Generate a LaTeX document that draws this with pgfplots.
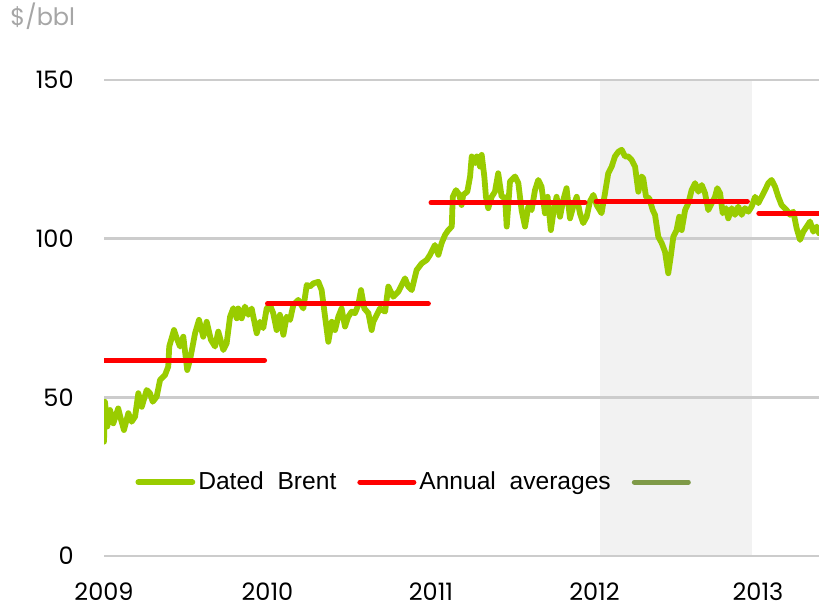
\documentclass[border=0pt]{standalone}
\usepackage{pgfplots}
\pgfplotsset{compat=1.18}
\usepackage{fontspec}
\setmainfont{Liberation Sans}
\newfontfamily\poppins{Poppins}
\definecolor{brentgreen}{HTML}{99CC00}
\definecolor{avgred}{HTML}{FF0000}
\definecolor{olivegreen}{HTML}{7F9A48}
\definecolor{shade}{HTML}{F2F2F2}
\definecolor{gridgray}{HTML}{CCCCCC}
\definecolor{labelgray}{HTML}{A6A6A6}
\begin{document}
\begin{tikzpicture}
\begin{axis}[
  at={(0,0)}, anchor=south west, scale only axis,
  width=357.5pt, height=238pt,
  set layers,
  xmin=2009, xmax=2013.373, ymin=0, ymax=150,
  axis line style={draw=none},
  tick style={draw=none}, major tick length=0pt,
  ytick={0,50,100,150},
  xtick={2009,2010,2011,2012,2013},
  xticklabels={2009,2010,2011,2012,2013},
  ymajorgrids, grid style={draw=gridgray, line width=1.2pt},
  /pgf/number format/assume math mode=true,
  tick label style={font=\poppins\fontsize{12pt}{14pt}\selectfont, text=black},
  yticklabel style={inner sep=0pt, anchor=east, xshift=-15pt},
  xticklabel style={inner sep=0pt, anchor=north, yshift=-13pt},
  legend style={at={(0.044,0.155)}, anchor=west, draw=none, fill=none,
    inner sep=0pt, outer sep=0pt,
    font=\fontsize{12.3pt}{14pt}\selectfont,
    nodes={inner sep=1.5pt},
    /tikz/every even column/.append style={column sep=9pt}},
  legend columns=3, legend cell align=left,
  legend image code/.code={\draw[#1] (0pt,0pt) -- (27pt,0pt);},
]
\addplot[fill=shade, draw=none, forget plot, on layer=axis background]
  coordinates {(2012.034,0) (2012.034,150) (2012.963,150) (2012.963,0)} -- cycle;

\addplot[brentgreen, line width=2.9pt, line cap=round, line join=round] coordinates {
(2009.000,36.0) (2009.006,48.6) (2009.020,40.8) (2009.037,46.0) (2009.057,41.8)
(2009.087,46.5) (2009.102,43.4) (2009.122,39.7) (2009.149,45.0) (2009.169,42.3)
(2009.190,43.9) (2009.210,51.3) (2009.231,47.0) (2009.261,52.3) (2009.281,51.3)
(2009.298,48.6) (2009.322,50.2) (2009.343,55.5) (2009.373,57.0) (2009.393,59.7)
(2009.399,66.0) (2009.428,71.2) (2009.445,68.6) (2009.465,66.0) (2009.485,69.1)
(2009.509,58.6) (2009.526,61.8) (2009.557,70.2) (2009.581,74.4) (2009.607,69.1)
(2009.628,73.8) (2009.654,68.1) (2009.679,66.0) (2009.699,70.7) (2009.730,64.9)
(2009.750,67.0) (2009.771,75.4) (2009.791,78.1) (2009.812,74.9) (2009.821,78.0)
(2009.842,74.9) (2009.862,78.6) (2009.883,76.0) (2009.903,78.0) (2009.934,70.2)
(2009.954,73.8) (2009.974,71.8) (2009.995,78.0) (2010.015,79.1) (2010.035,76.5)
(2010.056,71.2) (2010.076,76.0) (2010.097,69.7) (2010.117,75.4) (2010.138,74.4)
(2010.158,79.1) (2010.188,80.7) (2010.219,78.0) (2010.240,85.4) (2010.260,84.9)
(2010.280,85.9) (2010.311,86.4) (2010.331,83.8) (2010.352,75.4) (2010.372,67.5)
(2010.393,73.8) (2010.413,71.2) (2010.433,75.4) (2010.453,78.0) (2010.474,72.3)
(2010.494,75.4) (2010.515,77.0) (2010.535,76.5) (2010.555,79.1) (2010.572,83.8)
(2010.592,78.0) (2010.617,76.5) (2010.637,71.2) (2010.647,73.8) (2010.688,78.0)
(2010.719,77.0) (2010.739,84.9) (2010.769,81.7) (2010.800,83.3) (2010.821,85.4)
(2010.841,87.5) (2010.861,84.9) (2010.882,83.8) (2010.912,90.1) (2010.943,92.2)
(2010.974,93.3) (2010.994,94.9) (2011.024,98.0) (2011.045,94.9) (2011.065,98.6)
(2011.086,101.2) (2011.106,102.7) (2011.127,103.8) (2011.133,113.2) (2011.153,115.3)
(2011.173,113.8) (2011.187,110.6) (2011.197,113.8) (2011.222,114.8) (2011.239,119.6)
(2011.249,125.9) (2011.269,123.8) (2011.280,125.9) (2011.300,122.7) (2011.310,126.4)
(2011.326,119.6) (2011.336,113.2) (2011.350,109.6) (2011.371,113.2) (2011.391,114.8)
(2011.411,120.6) (2011.432,113.2) (2011.453,113.0) (2011.463,103.8) (2011.483,118.0)
(2011.514,119.6) (2011.534,117.5) (2011.554,109.0) (2011.575,103.8) (2011.595,110.1)
(2011.615,109.0) (2011.636,115.3) (2011.656,118.5) (2011.676,116.4) (2011.697,108.0)
(2011.713,113.2) (2011.733,102.7) (2011.748,108.0) (2011.768,113.2) (2011.789,106.9)
(2011.809,112.2) (2011.829,115.9) (2011.850,106.4) (2011.870,110.1) (2011.891,113.2)
(2011.911,108.0) (2011.931,104.9) (2011.952,106.9) (2011.972,111.7) (2011.993,113.8)
(2012.013,110.6) (2012.043,108.0) (2012.064,114.3) (2012.084,120.6) (2012.105,122.7)
(2012.125,125.9) (2012.146,127.4) (2012.166,128.0) (2012.187,125.9) (2012.207,125.9)
(2012.227,124.8) (2012.248,122.7) (2012.268,114.8) (2012.288,119.6) (2012.298,119.0)
(2012.315,113.2) (2012.335,112.7) (2012.356,109.0) (2012.370,107.5) (2012.390,100.6)
(2012.411,98.6) (2012.431,95.9) (2012.451,89.1) (2012.466,94.3) (2012.482,100.6)
(2012.502,102.7) (2012.518,106.9) (2012.533,102.7) (2012.554,109.0) (2012.574,111.2)
(2012.594,115.3) (2012.615,117.5) (2012.635,114.8) (2012.656,116.9) (2012.676,114.3)
(2012.696,109.0) (2012.717,111.2) (2012.737,113.2) (2012.751,115.9) (2012.768,114.3)
(2012.784,108.0) (2012.804,109.6) (2012.818,106.4) (2012.839,109.6) (2012.859,107.5)
(2012.879,110.1) (2012.900,107.5) (2012.920,109.6) (2012.941,108.5) (2012.961,110.1)
(2012.982,113.2) (2013.002,111.2) (2013.022,113.2) (2013.043,115.3) (2013.063,117.5)
(2013.083,118.5) (2013.104,116.4) (2013.124,113.2) (2013.144,110.6) (2013.175,109.0)
(2013.196,107.5) (2013.216,108.5) (2013.236,103.3) (2013.257,99.6) (2013.277,102.2)
(2013.298,103.8) (2013.318,105.4) (2013.338,102.2) (2013.359,103.8) (2013.373,101.7)
};
\addlegendentry{Dated\ \ Brent}

\addplot[avgred, line width=2.5pt, line cap=round, unbounded coords=jump] coordinates {
(2009.000,61.7) (2009.982,61.7) (2009.990,nan)
(2010.000,79.5) (2010.984,79.5) (2010.990,nan)
(2011.000,111.3) (2011.942,111.3) (2011.950,nan)
(2012.010,111.7) (2012.935,111.7) (2012.940,nan)
(2013.005,108.0) (2013.373,108.0)
};
\addlegendentry{Annual\ \ averages}

\addlegendimage{olivegreen, line width=2.5pt, line cap=round}
\addlegendentry{}
\end{axis}
\node[anchor=base west, inner sep=0pt, text=labelgray, font=\poppins\fontsize{12pt}{14pt}\selectfont] at (-47pt,265pt) {\$/bbl};
\pgfresetboundingbox
\path[use as bounding box] (-52pt,-26pt) rectangle (357.5pt,278pt);
\end{tikzpicture}
\end{document}
